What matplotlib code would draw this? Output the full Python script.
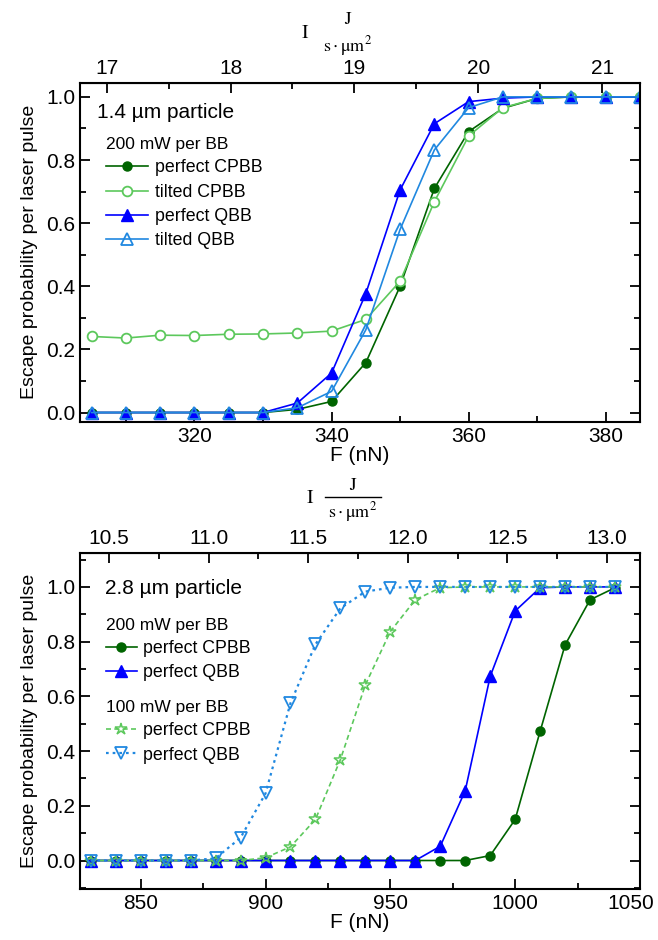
import numpy as np
import matplotlib
matplotlib.use("Agg")
import matplotlib.pyplot as plt
from matplotlib.ticker import MultipleLocator, FormatStrFormatter
from matplotlib.transforms import ScaledTranslation
from matplotlib.lines import Line2D

plt.rcParams['font.family'] = ['Liberation Sans', 'DejaVu Sans']
plt.rcParams['mathtext.fontset'] = 'stix'

# 1.4 um particle, 200 mW per BB
F1 = np.arange(305, 386, 5)
perfect_cpbb_1 = [0, 0, 0, 0, 0, 0, 0.01, 0.035, 0.158, 0.40, 0.71, 0.89, 0.964, 0.995, 1.0, 1.0, 1.0]
tilted_cpbb_1 = [0.241, 0.236, 0.245, 0.244, 0.248, 0.249, 0.252, 0.258, 0.295, 0.416, 0.668, 0.876,
                 0.966, 0.995, 1.0, 1.0, 1.0]
perfect_qbb_1 = [0, 0, 0, 0, 0, 0, 0.03, 0.125, 0.377, 0.705, 0.915, 0.985, 0.996, 1.0, 1.0, 1.0, 1.0]
tilted_qbb_1 = [0, 0, 0, 0, 0, 0, 0.015, 0.067, 0.262, 0.58, 0.832, 0.966, 1.0, 1.0, 1.0, 1.0, 1.0]

# 2.8 um particle
F2 = np.arange(830, 1041, 10)
perfect_cpbb_200 = [0] * 16 + [0.018, 0.15, 0.472, 0.788, 0.953, 0.997]
perfect_qbb_200 = [0] * 14 + [0.052, 0.255, 0.673, 0.912, 0.997, 1.0, 1.0, 1.0]
perfect_cpbb_100 = [0] * 7 + [0.01, 0.05, 0.15, 0.369, 0.642, 0.837, 0.953, 0.997] + [1.0] * 7
perfect_qbb_100 = [0] * 5 + [0.008, 0.083, 0.245, 0.575, 0.79, 0.922, 0.983, 0.997] + [1.0] * 9

k1 = 18.07   # F / I, top panel
k2 = 79.75   # F / I, bottom panel

dgreen = '#006400'
lgreen = '#5cc85c'
blue = '#0000ff'
lblue = '#2088e0'

fs_tick = 15
fs_leg = 12.8

W, H = 658, 940
fig = plt.figure(figsize=(W / 100, H / 100), dpi=100)
ax1 = fig.add_axes([0.1216, 0.5514, 0.851, 0.3603])
ax2 = fig.add_axes([0.1216, 0.0543, 0.851, 0.3574])

lw = 1.2
ax1.plot(F1, perfect_cpbb_1, '-o', color=dgreen, lw=lw, ms=6.5, label='perfect CPBB')
ax1.plot(F1, tilted_cpbb_1, '-o', color=lgreen, lw=lw, ms=7, mfc='white', mew=1.3, label='tilted CPBB')
ax1.plot(F1, perfect_qbb_1, '-^', color=blue, lw=lw, ms=8, label='perfect QBB')
ax1.plot(F1, tilted_qbb_1, '-^', color=lblue, lw=lw, ms=8, mfc='none', mew=1.3, label='tilted QBB')

l1 = ax2.plot(F2, perfect_cpbb_200, '-o', color=dgreen, lw=lw, ms=6.5, label='perfect CPBB')
l2 = ax2.plot(F2, perfect_qbb_200, '-^', color=blue, lw=lw, ms=8, label='perfect QBB')
l3 = ax2.plot(F2, perfect_cpbb_100, '*', ls=(0, (3, 2)), color=lgreen, lw=lw, ms=9, mfc='none', mew=1.1,
              label='perfect CPBB')
l4 = ax2.plot(F2, perfect_qbb_100, 'v', ls=(0, (1.2, 1.8)), color=lblue, lw=1.6, ms=8, mfc='none', mew=1.3,
              label='perfect QBB')

ax1.set_xlim(303.3, 385)
ax1.set_ylim(-0.029, 1.044)
ax2.set_xlim(825.7, 1050)
ax2.set_ylim(-0.104, 1.124)

ax1.set_xticks([320, 340, 360, 380])
ax1.set_xticks([310, 330, 350, 370], minor=True)
ax2.set_xticks([850, 900, 950, 1000, 1050])
ax2.set_xticks([875, 925, 975, 1025], minor=True)

for ax in (ax1, ax2):
    ax.yaxis.set_major_locator(MultipleLocator(0.2))
    ax.yaxis.set_minor_locator(MultipleLocator(0.1))
    ax.yaxis.set_major_formatter(FormatStrFormatter('%.1f'))
    ax.tick_params(which='both', direction='in', right=True, labelsize=fs_tick, width=1.3)
    ax.tick_params(which='major', length=7)
    ax.tick_params(which='minor', length=4)
    for s in ax.spines.values():
        s.set_linewidth(1.5)
    ax.set_xlabel('F (nN)', fontsize=fs_tick, labelpad=0)
    ax.set_ylabel('Escape probability per laser pulse', fontsize=14, labelpad=6)

# keep the last tick label inside the figure
lab = ax2.get_xticklabels()[-1]
lab.set_transform(lab.get_transform() + ScaledTranslation(-9 / 100, 0, fig.dpi_scale_trans))

sec1 = ax1.secondary_xaxis('top', functions=(lambda f: f / k1, lambda i: i * k1))
sec1.set_xticks([17, 18, 19, 20, 21])
sec1.set_xticks([17.5, 18.5, 19.5, 20.5], minor=True)

sec2 = ax2.secondary_xaxis('top', functions=(lambda f: f / k2, lambda i: i * k2))
sec2.set_xticks([10.5, 11.0, 11.5, 12.0, 12.5, 13.0])
sec2.set_xticks([10.75, 11.25, 11.75, 12.25, 12.75], minor=True)
sec2.xaxis.set_major_formatter(FormatStrFormatter('%.1f'))

for sec in (sec1, sec2):
    sec.tick_params(which='both', direction='in', labelsize=fs_tick, width=1.3)
    sec.tick_params(which='major', length=7)
    sec.tick_params(which='minor', length=4)


# intensity axis titles: I  J / (s·µm²)
def intensity_label(x_i, y_i, x_f, y_num, y_den, bar_y=None):
    fig.text(x_i / W, 1 - y_i / H, r'$\mathrm{I}$', fontsize=14, ha='center', va='center')
    fig.text(x_f / W, 1 - y_num / H, r'$\mathrm{J}$', fontsize=13, ha='center', va='center')
    fig.text(x_f / W, 1 - y_den / H, r'$\mathrm{s\cdot\mu m^2}$', fontsize=13, ha='center', va='center')
    if bar_y is not None:
        fig.add_artist(Line2D([(x_f - 28) / W, (x_f + 28) / W], [1 - bar_y / H] * 2,
                              transform=fig.transFigure, color='black', lw=1.0))


intensity_label(305, 34, 348, 20, 46)
intensity_label(310, 498, 353, 485, 512, bar_y=497)

# legends
ax1.text(0.03, 0.912, '1.4 µm particle', transform=ax1.transAxes, fontsize=15, va='center')
ax1.legend(loc='upper left', bbox_to_anchor=(0.046, 0.84), frameon=False, fontsize=fs_leg,
           title='200 mW per BB', title_fontsize=12.5, alignment='left',
           handlelength=2.4, handletextpad=0.35, labelspacing=0.41, borderpad=0, borderaxespad=0)

ax2.text(0.044, 0.893, '2.8 µm particle', transform=ax2.transAxes, fontsize=15, va='center')
leg2a = ax2.legend(handles=l1 + l2, loc='upper left', bbox_to_anchor=(0.046, 0.807), frameon=False,
                   fontsize=fs_leg, title='200 mW per BB', title_fontsize=12.5, alignment='left',
                   handlelength=1.75, handletextpad=0.35, labelspacing=0.41, borderpad=0, borderaxespad=0)
ax2.add_artist(leg2a)
ax2.legend(handles=l3 + l4, loc='upper left', bbox_to_anchor=(0.046, 0.5625), frameon=False, fontsize=fs_leg,
           title='100 mW per BB', title_fontsize=12.5, alignment='left',
           handlelength=1.75, handletextpad=0.35, labelspacing=0.41, borderpad=0, borderaxespad=0)

fig.savefig('out.png', dpi=100)
